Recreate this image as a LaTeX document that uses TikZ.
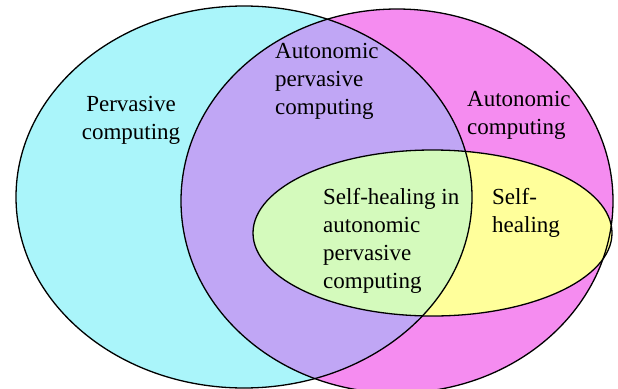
\documentclass[tikz,border=0pt]{standalone}
\usepackage{fontspec}
\setmainfont{Liberation Serif}
\begin{document}
\begin{tikzpicture}[x=1pt,y=-1pt,
  label/.style={align=left, inner sep=0pt, font=\fontsize{23}{28}\selectfont, anchor=north west},
  outline/.style={draw=black, line width=1.3pt}]
% region colours
\definecolor{pervcol}{RGB}{170,245,250}
\definecolor{autocol}{RGB}{245,140,240}
\definecolor{bothcol}{RGB}{192,166,245}
\definecolor{healcol}{RGB}{255,255,155}
\definecolor{healpervcol}{RGB}{212,250,188}
\useasboundingbox (0,0) rectangle (618,388);
\clip (0,0) rectangle (618,388);
% ellipse geometry
\def\pervE{(244,197) ellipse [x radius=228, y radius=191]}
\def\autoE{(397,201) ellipse [x radius=216, y radius=192]}
\def\healE{(432.5,233) ellipse [x radius=179.5, y radius=83]}
% base fills
\fill[autocol] \autoE;
\fill[healcol] \healE;
\fill[pervcol] \pervE;
% overlaps inside the pervasive ellipse
\begin{scope}
  \clip \pervE;
  \fill[bothcol] \autoE;
  \fill[healpervcol] \healE;
\end{scope}
% outlines
\draw[outline] \pervE;
\draw[outline] \autoE;
\draw[outline] \healE;
% labels
\node[label, align=center, anchor=center] (pervasive) at (131,120) {Pervasive\\computing};
\node[label] (autoperv) at (275,43) {Autonomic\\pervasive\\computing};
\node[label] (autonomic) at (467,91) {Autonomic\\computing};
\node[label] (healautoperv) at (323,188) {Self-healing in\\autonomic\\pervasive\\computing};
\node[label] (selfheal) at (492,188) {Self-\\healing};
\end{tikzpicture}
\end{document}
